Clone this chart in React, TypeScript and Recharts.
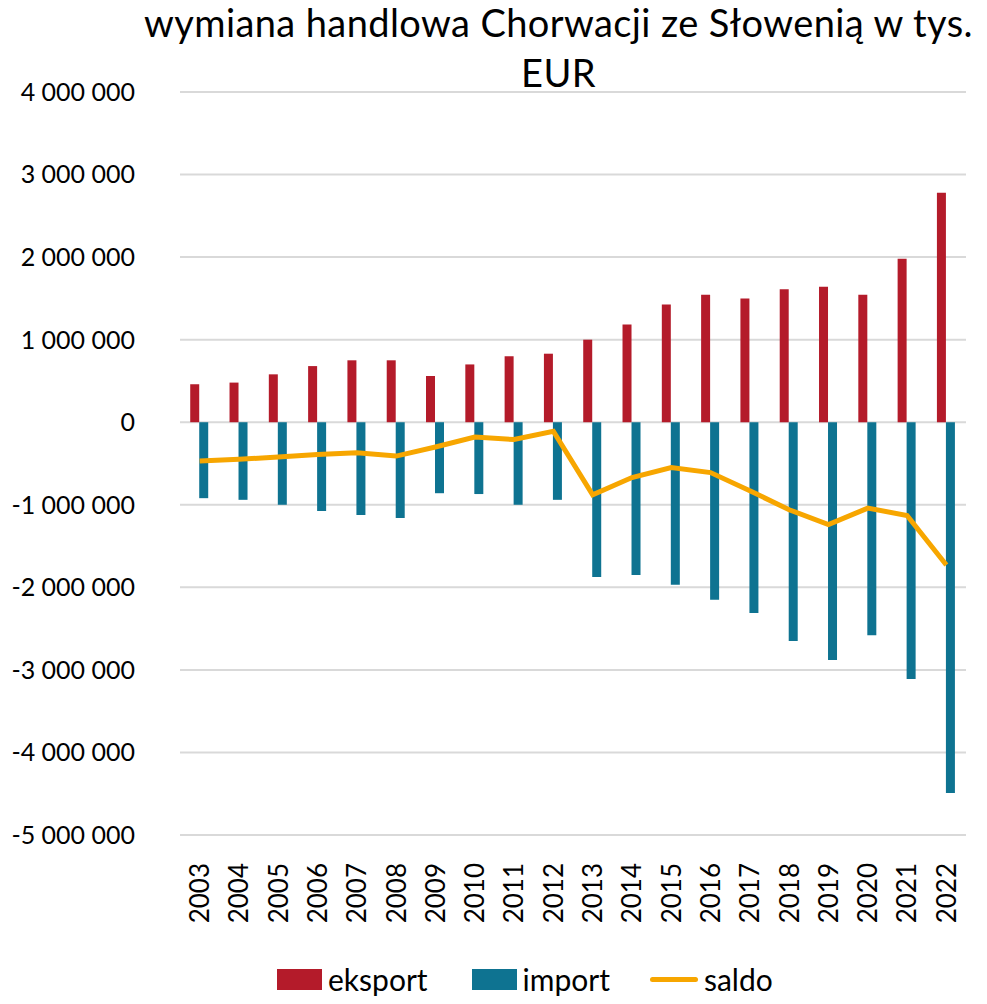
import { ComposedChart, Bar, Line, XAxis, YAxis, CartesianGrid, Legend } from 'recharts';

// Croatia - Slovenia trade, thousand EUR
const YEARS = ['2003', '2004', '2005', '2006', '2007', '2008', '2009', '2010', '2011', '2012', '2013', '2014', '2015', '2016', '2017', '2018', '2019', '2020', '2021', '2022'];
const EKSPORT = [460000, 480000, 580000, 680000, 750000, 750000, 560000, 700000, 800000, 830000, 1000000, 1185000, 1425000, 1545000, 1500000, 1610000, 1640000, 1545000, 1980000, 2780000];
const IMPORT = [-920000, -940000, -1000000, -1075000, -1125000, -1160000, -860000, -870000, -1000000, -940000, -1875000, -1850000, -1970000, -2150000, -2310000, -2650000, -2880000, -2580000, -3110000, -4490000];
const SALDO = [-470000, -450000, -420000, -390000, -370000, -410000, -300000, -180000, -210000, -110000, -880000, -670000, -550000, -610000, -830000, -1060000, -1240000, -1040000, -1130000, -1730000];
const Y_TICKS = [-5000000, -4000000, -3000000, -2000000, -1000000, 0, 1000000, 2000000, 3000000, 4000000];

const TITLE_1 = 'wymiana handlowa Chorwacji ze Słowenią w tys.';
const TITLE_2 = 'EUR';

const C_EKSPORT = '#B41B2A';
const C_IMPORT = '#0E7391';
const C_SALDO = '#F7A600';
const FONT = 'Lato, "Open Sans", sans-serif';

const data = YEARS.map((year, i) => ({
  year,
  eksport: EKSPORT[i],
  import: IMPORT[i],
  saldo: SALDO[i],
}));

const fmt = (v: number) => {
  const s = Math.abs(v).toString().replace(/\B(?=(\d{3})+(?!\d))/g, ' ');
  return v < 0 ? '-' + s : s;
};

function YearTick(props: any) {
  const { x, y, payload } = props;
  return (
    <text
      x={0}
      y={0}
      dy="0.36em"
      transform={`translate(${x},${y + 20}) rotate(-90)`}
      textAnchor="end"
      fill="#000"
      fontSize={26}
      fontFamily={FONT}
    >
      {payload.value}
    </text>
  );
}

function LegendBox() {
  const item = { display: 'flex', alignItems: 'center' } as const;
  const label = { fontSize: 30, fontFamily: FONT, color: '#000', marginLeft: 6 };
  return (
    <div style={{ display: 'flex', alignItems: 'center' }}>
      <div style={item}>
        <div style={{ width: 45, height: 21, background: C_EKSPORT }} />
        <span style={label}>eksport</span>
      </div>
      <div style={{ ...item, marginLeft: 44 }}>
        <div style={{ width: 45, height: 21, background: C_IMPORT }} />
        <span style={label}>import</span>
      </div>
      <div style={{ ...item, marginLeft: 40 }}>
        <div style={{ width: 48, height: 5, borderRadius: 3, background: C_SALDO }} />
        <span style={label}>saldo</span>
      </div>
    </div>
  );
}

export default function App() {
  return (
    <div style={{ position: 'absolute', left: 0, top: 0, width: 987, height: 1004, background: '#fff' }}>
      <div
        style={{
          position: 'absolute',
          left: 130,
          width: 857,
          top: -3,
          textAlign: 'center',
          fontFamily: FONT,
          fontSize: 38,
          letterSpacing: 0.4,
          lineHeight: '50px',
          color: '#000',
          zIndex: 1,
        }}
      >
        <div>{TITLE_1}</div>
        <div>{TITLE_2}</div>
      </div>
      <ComposedChart
        width={987}
        height={1004}
        data={data}
        margin={{ top: 92, right: 21, bottom: 69, left: 0 }}
        barCategoryGap="26%"
        barGap={0}
      >
        <CartesianGrid horizontal vertical={false} stroke="#D9D9D9" strokeWidth={2} />
        <XAxis
          dataKey="year"
          axisLine={false}
          tickLine={false}
          interval={0}
          height={100}
          tick={<YearTick />}
        />
        <YAxis
          domain={[-5000000, 4000000]}
          ticks={Y_TICKS}
          interval={0}
          width={180}
          axisLine={false}
          tickLine={false}
          tickSize={0}
          tickMargin={45}
          tickFormatter={fmt}
          tick={{ fill: '#000', fontSize: 25, fontFamily: FONT }}
        />
        <Bar dataKey="eksport" fill={C_EKSPORT} isAnimationActive={false} />
        <Bar dataKey="import" fill={C_IMPORT} isAnimationActive={false} />
        <Line
          dataKey="saldo"
          stroke={C_SALDO}
          strokeWidth={5}
          dot={false}
          type="linear"
          isAnimationActive={false}
        />
        <Legend
          verticalAlign="middle"
          align="center"
          content={<LegendBox />}
          wrapperStyle={{ left: 277, top: 961, width: 600, height: 44 }}
        />
      </ComposedChart>
    </div>
  );
}
